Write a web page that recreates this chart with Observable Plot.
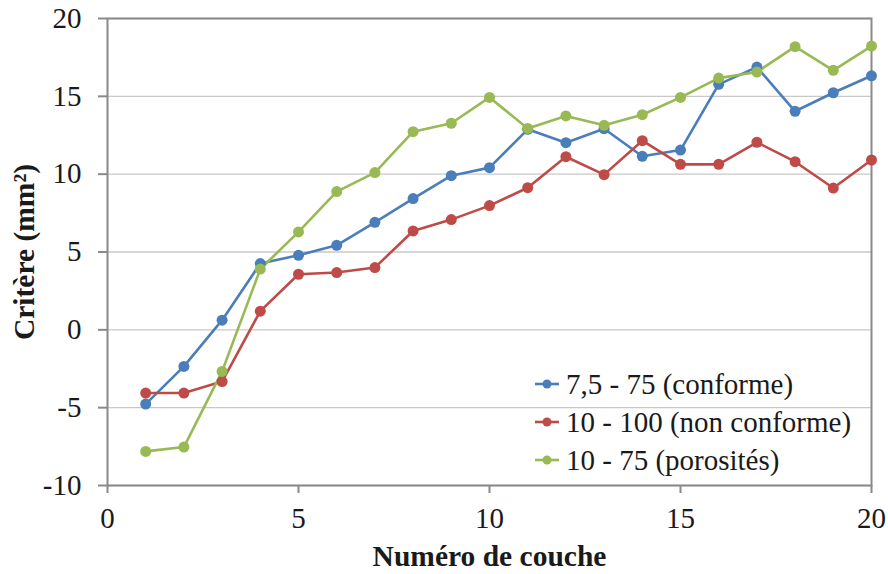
<!DOCTYPE html>
<html>
<head>
<meta charset="utf-8">
<script src="https://cdn.jsdelivr.net/npm/d3@7"></script>
<script src="https://cdn.jsdelivr.net/npm/@observablehq/plot@0.6"></script>
<style>
  html, body { margin: 0; padding: 0; background: #fff; }
  #wrap { position: relative; width: 888px; height: 574px; }
  #legend { position: absolute; left: 533px; top: 365px; font-family: "Liberation Serif", "Times New Roman", serif; font-size: 29px; color: #1a1a1a; }
  #legend .row { display: flex; align-items: center; height: 38px; white-space: nowrap; }
  #legend svg { margin-right: 5px; }
  svg text { font-family: "Liberation Serif", "Times New Roman", serif; }
</style>
</head>
<body>
<div id="wrap"><div id="legend"></div></div>
<script>
const couches = [1,2,3,4,5,6,7,8,9,10,11,12,13,14,15,16,17,18,19,20];
const conforme = [-4.77,-2.35,0.62,4.26,4.79,5.43,6.91,8.43,9.9,10.42,12.88,12.02,12.92,11.15,11.55,15.77,16.88,14.04,15.23,16.32];
const nonConforme = [-4.06,-4.06,-3.32,1.2,3.57,3.68,4.0,6.35,7.08,7.98,9.13,11.12,9.97,12.15,10.63,10.63,12.05,10.8,9.11,10.91];
const porosites = [-7.81,-7.53,-2.67,3.9,6.29,8.88,10.1,12.73,13.27,14.93,12.94,13.74,13.14,13.82,14.93,16.17,16.56,18.19,16.67,18.23];
const seriesNames = ["7,5 - 75 (conforme)", "10 - 100 (non conforme)", "10 - 75 (porosités)"];
const seriesColors = ["#4a7ebb", "#be4b48", "#98b954"];
const xTicks = [0,5,10,15,20];
const yTicks = [-10,-5,0,5,10,15,20];

const seriesValues = [conforme, nonConforme, porosites];
const data = seriesValues.flatMap((vals, i) => vals.map((v, j) => ({x: couches[j], y: v, s: seriesNames[i]})));

const font = '"Liberation Serif", "Times New Roman", serif';
const chart = Plot.plot({
  width: 888,
  height: 574,
  marginLeft: 107,
  marginRight: 17,
  marginTop: 18,
  marginBottom: 89,
  style: {fontFamily: font, fontSize: "29px", color: "#1a1a1a", background: "#fff"},
  x: {domain: [0, 20]},
  y: {domain: [-10, 20]},
  color: {domain: seriesNames, range: seriesColors},
  marks: [
    Plot.gridY(yTicks, {stroke: "#c8c8c8", strokeOpacity: 1, strokeWidth: 1.3}),
    Plot.frame({stroke: "#8a8a8a", strokeWidth: 2}),
    Plot.axisY(yTicks, {tickSize: 9, tickPadding: 17, stroke: "#8a8a8a", strokeWidth: 2, fontSize: 29, fontFamily: font, fontVariant: "normal", label: null, tickFormat: d => d}),
    Plot.axisX(xTicks, {tickSize: 8, tickPadding: 14, stroke: "#8a8a8a", strokeWidth: 2, fontSize: 29, fontFamily: font, fontVariant: "normal", label: null}),
    Plot.line(data, {x: "x", y: "y", z: "s", stroke: "s", strokeWidth: 2.6}),
    Plot.dot(data, {x: "x", y: "y", fill: "s", r: 5.5}),
    Plot.text(["Numéro de couche"], {frameAnchor: "bottom", dy: 80, fontWeight: "bold", fontSize: 29.5, fontFamily: font, text: d => d}),
    Plot.text(["Critère (mm²)"], {frameAnchor: "left", textAnchor: "middle", dx: -83, rotate: -90, fontWeight: "bold", fontSize: 29.5, fontFamily: font, text: d => d})
  ]
});
const wrap = document.getElementById("wrap");
wrap.insertBefore(chart, wrap.firstChild);

const legend = document.getElementById("legend");
seriesNames.forEach((name, i) => {
  const row = document.createElement("div");
  row.className = "row";
  row.innerHTML = `<svg width="28" height="12"><line x1="2" x2="26" y1="6" y2="6" stroke="${seriesColors[i]}" stroke-width="2.6"/><circle cx="14" cy="6" r="4.5" fill="${seriesColors[i]}"/></svg><span>${name}</span>`;
  legend.appendChild(row);
});
</script>
</body>
</html>
